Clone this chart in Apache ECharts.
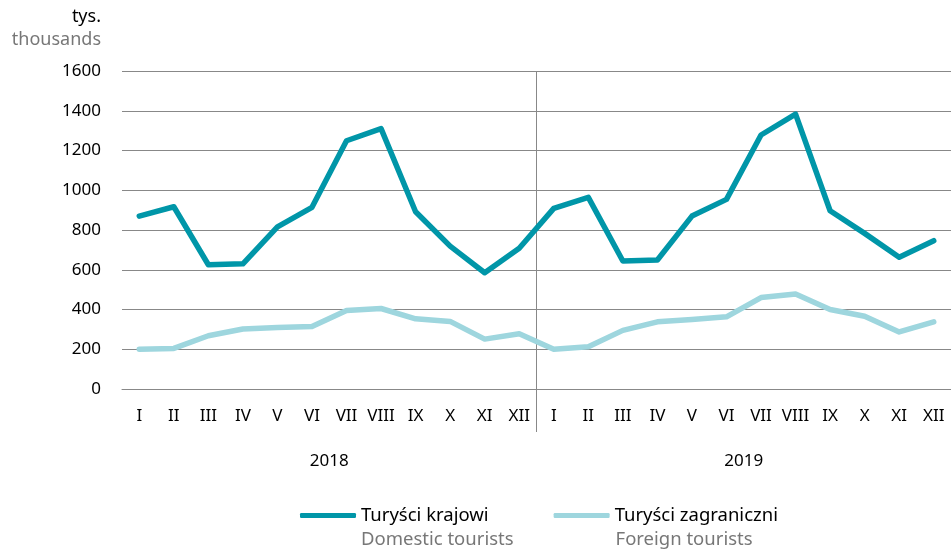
<!DOCTYPE html>
<html>
<head>
<meta charset="utf-8">
<script src="https://cdn.jsdelivr.net/npm/echarts@6/dist/echarts.min.js"></script>
<style>
  html, body { margin: 0; padding: 0; background: #fff; }
  #chart { width: 951px; height: 550px; }
</style>
</head>
<body>
<div id="chart"></div>
<script>
const months = ['I', 'II', 'III', 'IV', 'V', 'VI', 'VII', 'VIII', 'IX', 'X', 'XI', 'XII',
                'I', 'II', 'III', 'IV', 'V', 'VI', 'VII', 'VIII', 'IX', 'X', 'XI', 'XII'];
const years = ['2018', '2019'];
const domestic = [870, 917, 625, 630, 816, 914, 1249, 1310, 892, 719, 585, 708,
                  909, 964, 644, 649, 870, 954, 1278, 1383, 897, 783, 663, 746];
const foreign = [200, 204, 268, 302, 310, 315, 395, 405, 353, 340, 251, 278,
                 200, 213, 295, 338, 350, 363, 460, 478, 400, 366, 287, 338];
const namesPl = { domestic: 'Turyści krajowi', foreign: 'Turyści zagraniczni' };
const namesEn = { domestic: 'Domestic tourists', foreign: 'Foreign tourists' };

const font = 'Noto Sans';
const chart = echarts.init(document.getElementById('chart'));

chart.setOption({
  animation: false,
  textStyle: { fontFamily: font },
  grid: { left: 122, right: -10, top: 71, bottom: 161 },
  graphic: [
    { type: 'text', right: 850, top: 8, style: { text: 'tys.', fontSize: 18, fill: '#000', fontFamily: font } },
    { type: 'text', right: 850, top: 31, style: { text: 'thousands', fontSize: 18, fill: '#777', fontFamily: font } }
  ],
  xAxis: [
    {
      type: 'category',
      data: months,
      boundaryGap: true,
      axisLine: { lineStyle: { color: '#888', width: 1 } },
      axisTick: { show: false },
      axisLabel: { color: '#000', fontSize: 17, margin: 19, interval: 0 }
    },
    {
      // year axis: one unit per month, separator between the years
      type: 'value',
      position: 'bottom',
      offset: 43,
      min: 0,
      max: months.length,
      interval: 12,
      splitLine: { show: false },
      axisLine: { show: false },
      axisTick: {
        show: true,
        inside: true,
        length: 361,
        customValues: [12],
        lineStyle: { color: '#888', width: 1 }
      },
      axisLabel: {
        color: '#000',
        fontSize: 17,
        margin: 21,
        customValues: [6, 18],
        formatter: function (v) { return years[Math.floor(v / 12)]; }
      }
    }
  ],
  yAxis: {
    type: 'value',
    min: 0,
    max: 1600,
    interval: 200,
    axisLine: { show: false },
    axisTick: { show: false },
    axisLabel: { color: '#000', fontSize: 17, margin: 21, formatter: function (v) { return String(v); } },
    splitLine: { lineStyle: { color: '#888', width: 1 } }
  },
  legend: [
    {
      left: 300,
      top: 506,
      padding: 0,
      icon: 'roundRect',
      itemWidth: 56,
      itemHeight: 5,
      itemGap: 65,
      data: ['domestic', 'foreign'],
      formatter: function (n) { return namesPl[n]; },
      textStyle: { color: '#000', fontSize: 18.5, fontFamily: font }
    },
    {
      left: 300,
      top: 530,
      padding: 0,
      icon: 'rect',
      itemWidth: 56,
      itemHeight: 5,
      itemGap: 41,
      selectedMode: false,
      data: ['domestic', 'foreign'],
      formatter: function (n) { return namesEn[n]; },
      itemStyle: { color: 'rgba(0,0,0,0)' },
      lineStyle: { color: 'rgba(0,0,0,0)' },
      textStyle: { color: '#777', fontSize: 18.5, fontFamily: font }
    }
  ],
  series: [
    {
      name: 'domestic',
      type: 'line',
      data: domestic,
      xAxisIndex: 0,
      showSymbol: false,
      color: '#0096A8',
      lineStyle: { width: 5.5, color: '#0096A8', cap: 'round', join: 'round' }
    },
    {
      name: 'foreign',
      type: 'line',
      data: foreign,
      xAxisIndex: 0,
      showSymbol: false,
      color: '#9ED6DE',
      lineStyle: { width: 5.5, color: '#9ED6DE', cap: 'round', join: 'round' }
    }
  ]
});
</script>
</body>
</html>
